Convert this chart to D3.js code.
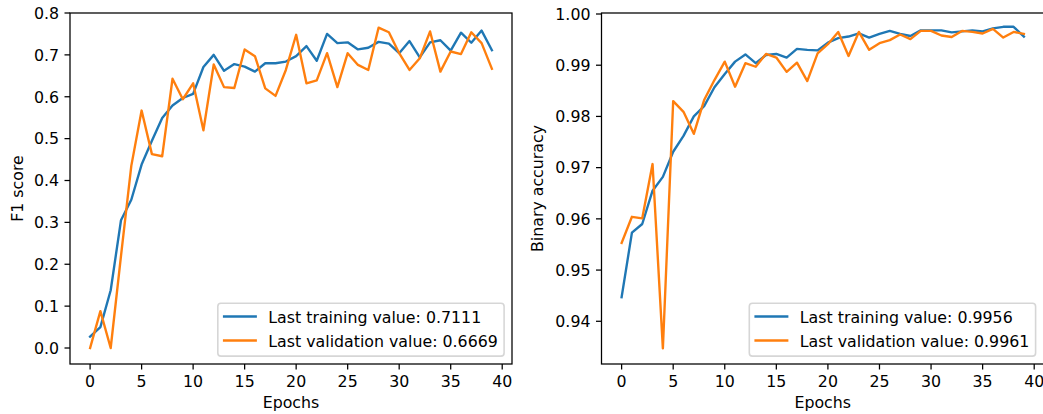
<!DOCTYPE html>
<html>
<head>
<meta charset="utf-8">
<script src="https://cdn.jsdelivr.net/npm/d3@7"></script>
<style>
  body { margin: 0; background: #fff; }
  svg { display: block; font-family: "DejaVu Sans", sans-serif; }
</style>
</head>
<body>
<svg id="chart" width="1043" height="414"></svg>
<script>
// epochs 0..39
const epochs = d3.range(40);

const f1Train = [0.027, 0.050, 0.138, 0.305, 0.354, 0.438, 0.495, 0.549, 0.579, 0.597,
  0.607, 0.671, 0.700, 0.662, 0.678, 0.672, 0.660, 0.680, 0.680, 0.684,
  0.697, 0.721, 0.686, 0.750, 0.728, 0.730, 0.713, 0.717, 0.731, 0.727,
  0.704, 0.733, 0.694, 0.730, 0.735, 0.710, 0.753, 0.729, 0.758, 0.7111];
const f1Val = [0.0, 0.088, 0.0, 0.22, 0.435, 0.567, 0.463, 0.458, 0.643, 0.594,
  0.632, 0.520, 0.677, 0.623, 0.621, 0.713, 0.697, 0.620, 0.602, 0.664,
  0.748, 0.632, 0.639, 0.704, 0.623, 0.704, 0.676, 0.664, 0.765, 0.754,
  0.704, 0.664, 0.692, 0.756, 0.660, 0.708, 0.702, 0.754, 0.728, 0.6669];

const accTrain = [0.9447, 0.9573, 0.9590, 0.9655, 0.9682, 0.9731, 0.9762, 0.9800, 0.9820, 0.9857,
  0.9883, 0.9907, 0.9921, 0.9904, 0.9920, 0.9922, 0.9915, 0.9932, 0.9930, 0.9929,
  0.9944, 0.9953, 0.9956, 0.9962, 0.9954, 0.9961, 0.9967, 0.9961, 0.9957, 0.9968,
  0.9968, 0.9968, 0.9964, 0.9966, 0.9968, 0.9966, 0.9972, 0.9975, 0.9975, 0.9956];
const accVal = [0.9553, 0.9604, 0.9601, 0.9707, 0.9347, 0.9830, 0.9809, 0.9766, 0.9832, 0.9871,
  0.9907, 0.9858, 0.9904, 0.9897, 0.9922, 0.9915, 0.9887, 0.9905, 0.9869, 0.9923,
  0.9941, 0.9965, 0.9918, 0.9965, 0.9930, 0.9943, 0.9949, 0.9960, 0.9951, 0.9967,
  0.9967, 0.9958, 0.9955, 0.9967, 0.9965, 0.9962, 0.9971, 0.9954, 0.9965, 0.9961];

const xTicks = [0, 5, 10, 15, 20, 25, 30, 35, 40];
const f1Ticks = [0.0, 0.1, 0.2, 0.3, 0.4, 0.5, 0.6, 0.7, 0.8];
const accTicks = [0.94, 0.95, 0.96, 0.97, 0.98, 0.99, 1.00];

const BLUE = '#1f77b4';
const ORANGE = '#ff7f0e';
const FS = 15.8;

const svg = d3.select('#chart');

function panel(opts) {
  const { left, right, yDomain, yTicks, yFmt, yLabel, labelX, train, val } = opts;
  const top = 13, bottom = 364;

  const x = d3.scaleLinear().domain([-1.95, 40.95]).range([left, right]);
  const y = d3.scaleLinear().domain(yDomain).range([bottom, top]);

  const g = svg.append('g');

  // lines
  const line = d3.line().x((d, i) => x(epochs[i])).y((d) => y(d));
  [[train, BLUE], [val, ORANGE]].forEach(([data, color]) => {
    g.append('path')
      .attr('d', line(data))
      .attr('fill', 'none')
      .attr('stroke', color)
      .attr('stroke-width', 2.37)
      .attr('stroke-linejoin', 'round')
      .attr('stroke-linecap', 'square');
  });

  // frame
  g.append('rect')
    .attr('x', left).attr('y', top)
    .attr('width', right - left).attr('height', bottom - top)
    .attr('fill', 'none')
    .attr('stroke', '#000')
    .attr('stroke-width', 1.26);

  // x axis ticks
  const xa = g.append('g');
  xTicks.forEach((t) => {
    xa.append('line')
      .attr('x1', x(t)).attr('x2', x(t))
      .attr('y1', bottom).attr('y2', bottom + 5.5)
      .attr('stroke', '#000').attr('stroke-width', 1.26);
    xa.append('text')
      .attr('x', x(t)).attr('y', bottom + 22.8)
      .attr('text-anchor', 'middle')
      .attr('font-size', FS)
      .text(t);
  });

  // y axis ticks
  const ya = g.append('g');
  yTicks.forEach((t) => {
    ya.append('line')
      .attr('x1', left - 5.5).attr('x2', left)
      .attr('y1', y(t)).attr('y2', y(t))
      .attr('stroke', '#000').attr('stroke-width', 1.26);
    ya.append('text')
      .attr('x', left - 11).attr('y', y(t) + 5.76)
      .attr('text-anchor', 'end')
      .attr('font-size', FS)
      .text(yFmt(t));
  });

  // axis labels
  g.append('text')
    .attr('x', (left + right) / 2).attr('y', 408)
    .attr('text-anchor', 'middle')
    .attr('font-size', FS)
    .text('Epochs');

  g.append('text')
    .attr('transform', `translate(${labelX},${(top + bottom) / 2}) rotate(-90)`)
    .attr('text-anchor', 'middle')
    .attr('font-size', FS)
    .text(yLabel);

  // legend, lower right
  const items = [
    ['Last training value: ' + train[train.length - 1].toFixed(4), BLUE],
    ['Last validation value: ' + val[val.length - 1].toFixed(4), ORANGE],
  ];
  const lg = g.append('g');
  const box = lg.append('rect');
  const texts = items.map(([label]) => lg.append('text').attr('font-size', FS).text(label));
  const textW = d3.max(texts, (t) => t.node().getComputedTextLength());

  const boxRight = Math.min(right, 1043) - 7.9 + (right > 1043 ? 0.5 : 0);
  const boxBottom = bottom - 7.9;
  const boxW = 6.3 + 31.6 + 12.6 + textW + 6.3;
  const boxLeft = boxRight - boxW;
  const boxTop = boxBottom - 52.8;

  box.attr('x', boxLeft).attr('y', boxTop)
    .attr('width', boxW).attr('height', boxBottom - boxTop)
    .attr('rx', 3.2).attr('ry', 3.2)
    .attr('fill', 'rgba(255,255,255,0.8)')
    .attr('stroke', 'rgba(204,204,204,0.8)')
    .attr('stroke-width', 1.58);

  items.forEach(([, color], i) => {
    const cy = boxTop + 13.2 + i * 24;
    lg.append('line')
      .attr('x1', boxLeft + 6.3).attr('x2', boxLeft + 6.3 + 31.6)
      .attr('y1', cy).attr('y2', cy)
      .attr('stroke', color).attr('stroke-width', 2.37)
      .attr('stroke-linecap', 'square');
    texts[i].attr('x', boxLeft + 6.3 + 31.6 + 12.6).attr('y', cy + 6.2);
  });
}

panel({
  left: 70, right: 512,
  yDomain: [-0.0382, 0.8],
  yTicks: f1Ticks,
  yFmt: d3.format('.1f'),
  yLabel: 'F1 score',
  labelX: 23.3,
  train: f1Train, val: f1Val,
});

panel({
  left: 601.5, right: 1044,
  yDomain: [0.93166, 1.000195],
  yTicks: accTicks,
  yFmt: d3.format('.2f'),
  yLabel: 'Binary accuracy',
  labelX: 543.3,
  train: accTrain, val: accVal,
});
</script>
</body>
</html>
